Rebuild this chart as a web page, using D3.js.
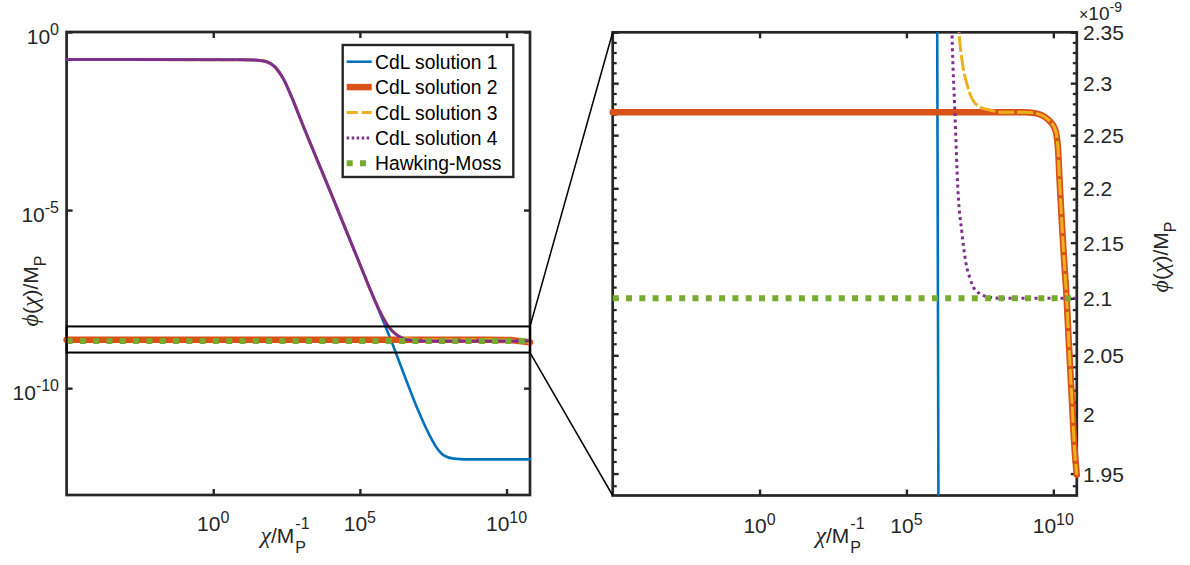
<!DOCTYPE html>
<html><head><meta charset="utf-8">
<script src="https://cdn.jsdelivr.net/npm/d3@7"></script>
<style>body{margin:0;background:#fff}svg{display:block}</style>
</head><body><svg id="chart" width="1190" height="565"></svg>
<script>
// ---------------- data ----------------
const seriesNames = ["CdL solution 1", "CdL solution 2", "CdL solution 3", "CdL solution 4", "Hawking-Moss"];
const xTicks = [1e0, 1e5, 1e10];
const xTickExps = ["0", "5", "10"];
const leftYTicks = [1e0, 1e-5, 1e-10];
const leftYTickExps = ["0", "-5", "-10"];
const rightYTicks = [1.95e-9, 2.0e-9, 2.05e-9, 2.1e-9, 2.15e-9, 2.2e-9, 2.25e-9, 2.3e-9, 2.35e-9];
const rightYTickLabels = ["1.95", "2", "2.05", "2.1", "2.15", "2.2", "2.25", "2.3", "2.35"];
const xDomain = [1e-5, 6.31e10];
const leftYDomain = [1e-13, 1];
const rightYDomain = [1.932e-9, 2.35e-9];
const zoomBoxPhi = [1.0e-9, 5.4e-9];

const sol1Chi = [1e-5, 1e1, 3.16e1, 6.31e1, 1.26e2, 2.51e2, 5.01e2, 1e3, 1e4, 1e5, 3.16e5, 1e6, 1.17e6, 3.16e6, 1e7, 2.0e7, 3.98e7, 7.08e7, 1.58e8, 3.98e8, 6.31e10];
const sol1Phi = [0.168, 0.167, 0.162, 0.148, 0.105, 0.0468, 0.0132, 3.16e-3, 3.16e-5, 3.02e-7, 3.02e-8, 2.95e-9, 2.14e-9, 2.5e-10, 2.24e-11, 6.3e-12, 2.24e-12, 1.32e-12, 1.05e-12, 1.0e-12, 1.0e-12];

const sol2Chi = [1e-5, 1e9, 2.38e9, 5.96e9, 1.14e10, 1.45e10, 1.63e10, 1.93e10, 2.32e10, 2.86e10, 3.30e10, 4.24e10, 5.08e10, 6.31e10];
const sol2Phi = [2.272e-9, 2.272e-9, 2.271e-9, 2.266e-9, 2.256e-9, 2.237e-9, 2.208e-9, 2.171e-9, 2.135e-9, 2.099e-9, 2.066e-9, 2.014e-9, 1.977e-9, 1.949e-9];

const sol3Chi = [1e-5, 1e1, 3.16e1, 6.31e1, 1.26e2, 2.51e2, 5.01e2, 1e3, 1e4, 1e5, 3.16e5, 6.31e5, 1e6, 1.78e6, 3.31e6, 6.17e6, 8.32e6, 1.15e7, 1.70e7, 3.16e7, 6.92e7, 1.51e8, 1e9, 2.38e9, 5.96e9, 1.14e10, 1.45e10, 1.63e10, 1.93e10, 2.32e10, 2.86e10, 3.30e10, 4.24e10, 5.08e10, 6.31e10];
const sol3Phi = [0.168, 0.167, 0.162, 0.148, 0.105, 0.0468, 0.0132, 3.16e-3, 3.16e-5, 3.02e-7, 3.02e-8, 9.5e-9, 5.2e-9, 3.2e-9, 2.55e-9, 2.35e-9, 2.317e-9, 2.299e-9, 2.285e-9, 2.277e-9, 2.274e-9, 2.272e-9, 2.272e-9, 2.271e-9, 2.266e-9, 2.256e-9, 2.237e-9, 2.208e-9, 2.171e-9, 2.135e-9, 2.099e-9, 2.066e-9, 2.014e-9, 1.977e-9, 1.949e-9];

const sol4Chi = [1e-5, 1e1, 3.16e1, 6.31e1, 1.26e2, 2.51e2, 5.01e2, 1e3, 1e4, 1e5, 3.16e5, 6.31e5, 1e6, 1.58e6, 2.51e6, 3.55e6, 4.47e6, 5.62e6, 7.76e6, 1.07e7, 1.45e7, 1.82e7, 3.16e7, 6.92e7, 1.58e8, 6.31e10];
const sol4Phi = [0.168, 0.167, 0.162, 0.148, 0.105, 0.0468, 0.0132, 3.16e-3, 3.16e-5, 3.02e-7, 3.02e-8, 9.0e-9, 5.0e-9, 3.4e-9, 2.65e-9, 2.35e-9, 2.272e-9, 2.20e-9, 2.159e-9, 2.131e-9, 2.118e-9, 2.111e-9, 2.104e-9, 2.101e-9, 2.100e-9, 2.100e-9];

const hmChi = [1e-5, 6.31e10];
const hmPhi = [2.1e-9, 2.1e-9];

// ---------------- styles ----------------
const FONT = "'Liberation Sans', Arial, Helvetica, sans-serif";
const SERIF = "'Liberation Serif', 'DejaVu Serif', 'Times New Roman', serif";
const AX = "#262626";
const styles = [
  {color: "#0072BD", width: 2.6, dash: null},
  {color: "#D95319", width: 6.5, dash: null},
  {color: "#EDB120", width: 3, dash: "16,3"},
  {color: "#7E2F8E", width: 3, dash: "3,3.5"},
  {color: "#77AC30", width: 6, dash: "6,7.3"}
];
const seriesData = [
  d3.zip(sol1Chi, sol1Phi),
  d3.zip(sol2Chi, sol2Phi),
  d3.zip(sol3Chi, sol3Phi),
  d3.zip(sol4Chi, sol4Phi),
  d3.zip(hmChi, hmPhi)
];

const svg = d3.select("#chart");
const L = {x0: 66.6, x1: 530, y0: 32, y1: 495};
const R = {x0: 612.7, x1: 1076.8, y0: 32.3, y1: 495.5};

const lx = d3.scaleLog().domain(xDomain).range([L.x0, L.x1]);
const ly = d3.scaleLog().domain(leftYDomain).range([L.y1, L.y0]);
const rx = d3.scaleLog().domain(xDomain).range([R.x0, R.x1]);
const ry = d3.scaleLog().domain(rightYDomain).range([R.y1, R.y0]);

function ticksGroup(g, axisFn, size, vals, sw) {
  g.call(axisFn.tickValues(vals).tickSize(size).tickFormat(""));
  g.select(".domain").remove();
  g.selectAll(".tick line").attr("stroke", AX).attr("stroke-width", sw);
}

function frame(P, xs, ys, yTickVals, minor) {
  svg.append("rect").attr("x", P.x0).attr("y", P.y0)
    .attr("width", P.x1 - P.x0).attr("height", P.y1 - P.y0)
    .attr("fill", "none").attr("stroke", AX).attr("stroke-width", 2.7);
  ticksGroup(svg.append("g").attr("transform", `translate(0,${P.y1})`), d3.axisBottom(xs), -6, xTicks, 2.4);
  ticksGroup(svg.append("g").attr("transform", `translate(0,${P.y0})`), d3.axisTop(xs), -6, xTicks, 2.4);
  ticksGroup(svg.append("g").attr("transform", `translate(${P.x0},0)`), d3.axisLeft(ys), -6, yTickVals, 2.4);
  ticksGroup(svg.append("g").attr("transform", `translate(${P.x1},0)`), d3.axisRight(ys), -6, yTickVals, 2.4);
  if (minor) {
    ticksGroup(svg.append("g").attr("transform", `translate(${P.x0},0)`), d3.axisLeft(ys), -4, minor, 2.2);
    ticksGroup(svg.append("g").attr("transform", `translate(${P.x1},0)`), d3.axisRight(ys), -4, minor, 2.2);
  }
}

function powLabel(x, y, exp, anchor) {
  const t = svg.append("text").attr("x", x).attr("y", y).attr("text-anchor", anchor)
    .attr("font-family", FONT).attr("font-size", 21).attr("fill", AX);
  t.append("tspan").text("10");
  t.append("tspan").attr("dy", -8.5).attr("font-size", 16).text(exp);
}

function drawLines(g, xs, ys, purpleSolid) {
  const line = d3.line().x(d => xs(d[0])).y(d => ys(d[1])).curve(d3.curveMonotoneX);
  seriesData.forEach((data, i) => {
    const s = styles[i];
    const dash = (i === 3 && purpleSolid) ? null : s.dash;
    g.append("path").attr("d", line(data)).attr("fill", "none")
      .attr("stroke", s.color).attr("stroke-width", s.width)
      .attr("stroke-linecap", dash ? "butt" : "round").attr("stroke-linejoin", "round")
      .attr("stroke-dasharray", dash);
  });
}

// minor ticks for right panel (every 0.01e-9)
const rightMinor = d3.range(194, 236).map(v => v / 100 * 1e-9).filter(v => !rightYTicks.some(t => Math.abs(t - v) < 1e-13));

// ---------------- left panel ----------------
frame(L, lx, ly, leftYTicks, null);
drawLines(svg.append("g"), lx, ly, true);
xTicks.forEach((v, i) => powLabel(lx(v), 531, xTickExps[i], "middle"));
leftYTicks.forEach((v, i) => powLabel(59, ly(v) + 11.5, leftYTickExps[i], "end"));

// ---------------- right panel ----------------
frame(R, rx, ry, rightYTicks, rightMinor);
const defs = svg.append("defs");
defs.append("clipPath").attr("id", "rclip").append("rect")
  .attr("x", R.x0 - 4).attr("y", R.y0).attr("width", R.x1 - R.x0 + 8).attr("height", R.y1 - R.y0);
drawLines(svg.append("g").attr("clip-path", "url(#rclip)"), rx, ry, false);
xTicks.forEach((v, i) => powLabel(rx(v), 533, xTickExps[i], "middle"));
rightYTicks.forEach((v, i) => {
  svg.append("text").attr("x", 1083).attr("y", ry(v) + 8)
    .attr("font-family", FONT).attr("font-size", 21).attr("fill", AX).text(rightYTickLabels[i]);
});
// x10^-9 exponent label
{
  const t = svg.append("text").attr("x", 1079).attr("y", 20).attr("font-family", FONT).attr("fill", AX);
  t.append("tspan").attr("font-size", 16).text("×");
  t.append("tspan").attr("font-size", 19).text("10");
  t.append("tspan").attr("font-size", 14).attr("dy", -8).text("-9");
}

// ---------------- zoom box and connectors ----------------
svg.append("rect").attr("x", L.x0).attr("y", ly(zoomBoxPhi[1]))
  .attr("width", L.x1 - L.x0).attr("height", ly(zoomBoxPhi[0]) - ly(zoomBoxPhi[1]))
  .attr("fill", "none").attr("stroke", "#000").attr("stroke-width", 2);
svg.append("line").attr("x1", L.x1).attr("y1", ly(zoomBoxPhi[1])).attr("x2", R.x0).attr("y2", R.y0)
  .attr("stroke", "#000").attr("stroke-width", 1.5);
svg.append("line").attr("x1", L.x1).attr("y1", ly(zoomBoxPhi[0])).attr("x2", R.x0).attr("y2", R.y1)
  .attr("stroke", "#000").attr("stroke-width", 1.5);

// ---------------- axis labels ----------------
function xLabel(cx, baseline) {
  const g = svg.append("g");
  const t = g.append("text").attr("y", baseline).attr("fill", AX);
  t.append("tspan").attr("font-family", SERIF).attr("font-style", "italic").attr("font-size", 24).text("χ");
  t.append("tspan").attr("font-family", FONT).attr("font-size", 21).text("/M");
  const w = t.node().getComputedTextLength() + 1;
  const sub = g.append("text").attr("x", w).attr("y", baseline + 10).attr("font-family", FONT)
    .attr("font-size", 16).attr("fill", AX).text("P");
  const sup = g.append("text").attr("x", w).attr("y", baseline - 14).attr("font-family", FONT)
    .attr("font-size", 16).attr("fill", AX).text("-1");
  const total = w + Math.max(sub.node().getComputedTextLength(), sup.node().getComputedTextLength());
  g.attr("transform", `translate(${cx - total / 2},0)`);
}
xLabel(285, 543);
xLabel(840, 543);

function yLabel(bx, cy) {
  const t = svg.append("text").attr("transform", `translate(${bx},${cy}) rotate(-90)`)
    .attr("text-anchor", "middle").attr("fill", AX);
  t.append("tspan").attr("font-family", SERIF).attr("font-style", "italic").attr("font-size", 24).text("ϕ");
  t.append("tspan").attr("font-family", FONT).attr("font-size", 21).text("(");
  t.append("tspan").attr("font-family", SERIF).attr("font-style", "italic").attr("font-size", 24).text("χ");
  t.append("tspan").attr("font-family", FONT).attr("font-size", 21).text(")/M");
  t.append("tspan").attr("font-family", FONT).attr("font-size", 16).attr("dy", 8).text("P");
}
yLabel(38, 291);
yLabel(1168, 257);

// ---------------- legend ----------------
const lg = svg.append("g");
lg.append("rect").attr("x", 342.7).attr("y", 45).attr("width", 170.6).attr("height", 132)
  .attr("fill", "#fff").attr("stroke", AX).attr("stroke-width", 2.4);
seriesNames.forEach((name, i) => {
  const y = 61.7 + i * 25.4;
  const s = styles[i];
  const legendDash = i === 2 ? "11,4" : (i === 3 ? "2.5,2.5" : s.dash);
  lg.append("line").attr("x1", 346.7).attr("x2", 371.7).attr("y1", y).attr("y2", y)
    .attr("stroke", s.color).attr("stroke-width", s.width).attr("stroke-dasharray", legendDash);
  lg.append("text").attr("x", 375).attr("y", y + 7).attr("font-family", FONT)
    .attr("font-size", 19.3).attr("fill", "#000").text(name);
});
</script>
</body></html>
